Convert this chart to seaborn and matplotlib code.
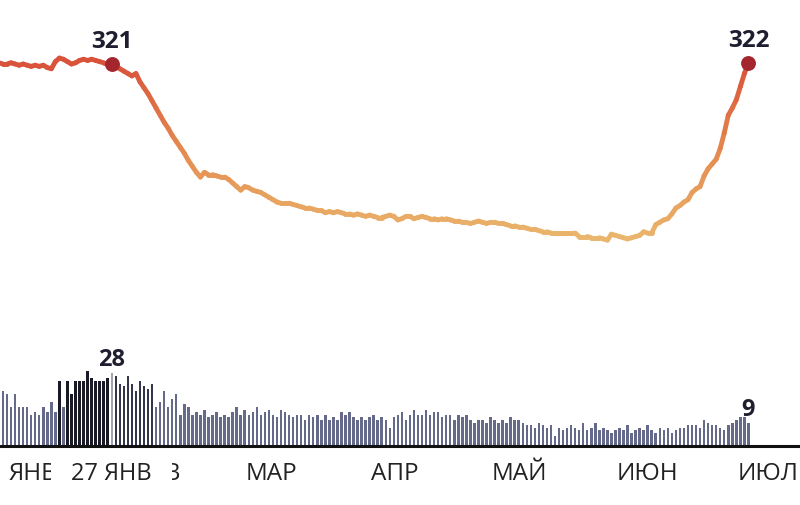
import numpy as np
import pandas as pd
import matplotlib
matplotlib.use("Agg")
import matplotlib.pyplot as plt
from matplotlib.collections import LineCollection
from matplotlib.colors import LinearSegmentedColormap
import seaborn as sns

# days are counted from 1 Jan, first point is 30 Dec
first_day = -2

# daily bars
cases = [18, 21, 20, 15, 20, 15, 15, 15, 12, 13,
         12, 15, 13, 17, 13, 25, 15, 25, 20, 25,
         25, 25, 29, 26, 25, 25, 25, 26, 28, 27,
         24, 23, 27, 24, 21, 25, 23, 22, 24, 15,
         17, 21, 15, 18, 20, 12, 16, 15, 12, 13,
         12, 14, 11, 12, 13, 11, 12, 11, 13, 15,
         12, 14, 12, 13, 15, 12, 13, 14, 12, 11,
         14, 13, 12, 11, 12, 12, 10, 12, 11, 12,
         10, 12, 10, 11, 10, 13, 12, 13, 11, 10,
         11, 10, 11, 12, 10, 11, 10, 7, 11, 12,
         13, 10, 12, 14, 12, 12, 14, 12, 13, 13,
         11, 12, 12, 10, 12, 11, 12, 10, 9, 10,
         10, 9, 11, 10, 9, 10, 9, 11, 10, 10,
         9, 8, 8, 7, 9, 8, 7, 8, 4, 7,
         6, 7, 8, 7, 6, 9, 6, 7, 9, 6,
         7, 6, 5, 6, 7, 6, 8, 5, 6, 7,
         6, 8, 6, 5, 7, 6, 7, 5, 6, 7,
         7, 8, 8, 8, 7, 10, 9, 8, 8, 7,
         6, 8, 9, 10, 11, 11, 9]

# the line above
level = [322, 321, 321, 322, 321, 320, 321, 320, 319, 320,
         319, 320, 318, 317, 323, 326, 325, 323, 321, 322,
         324, 325, 324, 325, 324, 323, 322, 322, 321, 319,
         317, 315, 313, 311, 313, 306, 301, 296, 290, 284,
         278, 272, 267, 261, 256, 251, 246, 240, 235, 230,
         226, 230, 228, 228, 227, 226, 226, 224, 221, 218,
         215, 218, 217, 215, 214, 213, 211, 209, 207, 205,
         204, 204, 204, 203, 202, 201, 200, 200, 199, 198,
         198, 196, 197, 196, 197, 196, 195, 195, 194, 195,
         194, 193, 194, 193, 192, 192, 193, 194, 193, 190,
         191, 193, 193, 191, 192, 193, 192, 191, 191, 190,
         191, 191, 190, 189, 189, 188, 188, 187, 188, 189,
         188, 187, 188, 188, 187, 187, 186, 185, 185, 184,
         184, 183, 182, 182, 181, 180, 180, 179, 179, 179,
         179, 179, 179, 179, 176, 176, 176, 175, 175, 175,
         174, 173, 178, 177, 176, 175, 174, 175, 176, 177,
         180, 179, 179, 186, 188, 190, 191, 195, 200, 202,
         205, 207, 213, 216, 218, 227, 233, 237, 241, 250,
         263, 278, 284, 291, 302, 313, 322]

month_starts = [0, 31, 59, 90, 120, 151, 181]
month_labels = ["ЯНВ", "ФЕВ", "МАР", "АПР", "МАЙ", "ИЮН", "ИЮЛ"]

hover_day = 26
hover_label = "27 ЯНВ"
# highlighted bars around the hovered day
before_days = [13, 15, 16, 17, 18, 19, 20, 21, 22, 23, 24, 25]
after_days = [27, 28, 29, 30, 31, 32, 33, 34, 35, 36]

assert len(cases) == len(level)
days = np.arange(first_day, first_day + len(cases))

sns.set_style("white")
plt.rcParams["font.family"] = ["Open Sans", "DejaVu Sans"]

ink = "#1e1e30"

fig = plt.figure(figsize=(8, 5.05), dpi=100)
ax = fig.add_axes([0, 59 / 505, 1, 446 / 505])

df = pd.DataFrame({"day": days, "cases": cases})
df["kind"] = "rest"
df.loc[df["day"].isin(before_days), "kind"] = "before"
df.loc[df["day"].isin(after_days), "kind"] = "after"
df.loc[df["day"] == hover_day, "kind"] = "hover"

sns.barplot(data=df, x="day", y="cases", hue="kind",
            palette={"rest": "#666a8a", "before": "#1a1a26",
                     "after": "#34364c", "hover": "#a3a3ad"},
            native_scale=True, dodge=False, width=0.62, saturation=1,
            errorbar=None, legend=False, linewidth=0, edgecolor="none", ax=ax)

ax.axhline(0, color="#111111", lw=2.2, clip_on=False, zorder=7)

# bar labels
for d in [hover_day, days[-1]]:
    v = df.loc[df["day"] == d, "cases"].iloc[0]
    ax.annotate(str(v), (d, v), xytext=(0, 7), textcoords="offset pixels",
                ha="center", va="baseline", fontsize=17, fontweight="bold",
                color=ink, annotation_clip=False)

# month labels along the bottom (kept under the bars)
for d, lab in zip(month_starts, month_labels):
    ax.annotate(lab, (d, 0), xytext=(1, -34), textcoords="offset pixels",
                ha="left", va="baseline", fontsize=17.5, color="#222222",
                annotation_clip=False, zorder=0.5)

# hovered date sits on a white tag over the month labels
ax.annotate(hover_label, (hover_day, 0), xytext=(0, -34), textcoords="offset pixels",
            ha="center", va="baseline", fontsize=17, color="#222222",
            bbox=dict(boxstyle="square,pad=0.85", fc="white", ec="none"),
            annotation_clip=False, zorder=0.7)

ax.set_xlim(-1.74, 196.8)
ax.set_ylim(0, 446 / 2.6)
ax.axis("off")

# gradient line on its own scale
ax2 = ax.twinx()
cmap = LinearSegmentedColormap.from_list("heat", ["#eab56c", "#e48a50", "#d9523a"])
pts = np.column_stack([days, level])
segs = np.stack([pts[:-1], pts[1:]], axis=1)
mid = (np.array(level[:-1]) + np.array(level[1:])) / 2
lc = LineCollection(segs, cmap=cmap, norm=plt.Normalize(175, 322),
                    linewidths=3.5, capstyle="round", joinstyle="round")
lc.set_array(mid)
ax2.add_collection(lc)

marks = pd.DataFrame({"day": [hover_day, days[-1]],
                      "level": [level[hover_day - first_day], level[-1]]})
sns.scatterplot(data=marks, x="day", y="level", color="#a3262f", s=115,
                linewidth=0, ax=ax2, zorder=5)
for d, v in zip(marks["day"], marks["level"]):
    ax2.annotate(str(v), (d, v), xytext=(0, 16), textcoords="offset pixels",
                 ha="center", va="baseline", fontsize=17.5, fontweight="bold",
                 color=ink, annotation_clip=False)

ax2.set_xlim(-1.74, 196.8)
ax2.set_ylim(0, 446 / 1.19)
ax2.axis("off")

fig.savefig("out.png", dpi=100)
